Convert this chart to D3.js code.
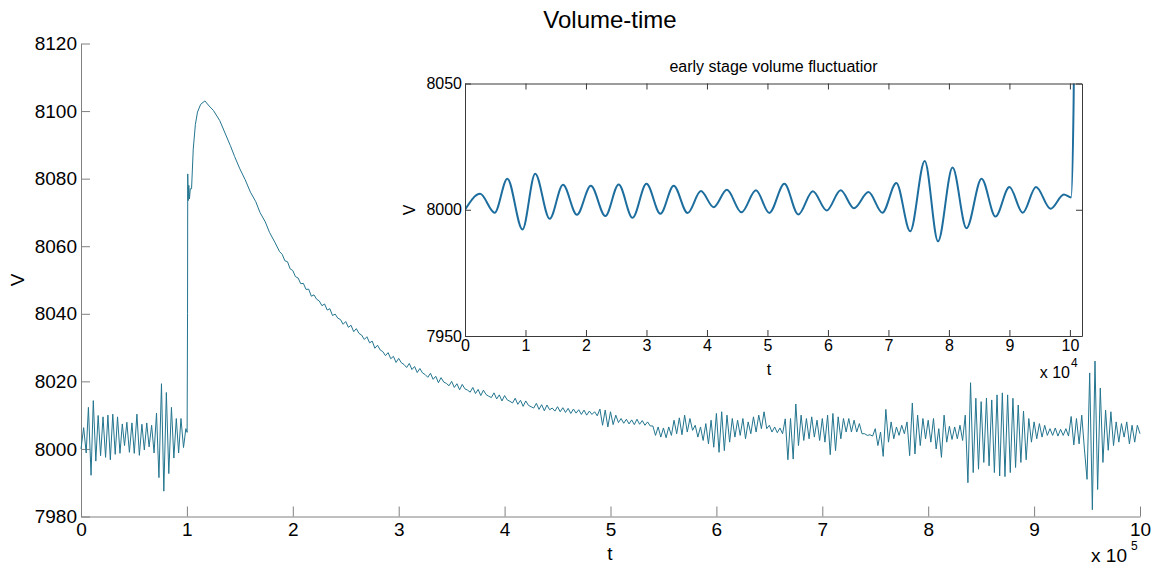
<!DOCTYPE html>
<html>
<head>
<meta charset="utf-8">
<title>Volume-time</title>
<script src="https://d3js.org/d3.v7.min.js"></script>
<style>
  body { margin: 0; background: #fff; }
  text { font-family: "Liberation Sans", Arial, sans-serif; }
</style>
</head>
<body>
<div id="chart"></div>
<script>
// early stage, t in units of 1e4 (drives the inset and the start of the main curve)
var earlyT = [0, 0.25, 0.49, 0.70, 0.95, 1.16, 1.40, 1.62, 1.85, 2.08, 2.32, 2.54, 2.77, 3.00, 3.23,
  3.45, 3.68, 3.90, 4.11, 4.33, 4.57, 4.81, 5.03, 5.28, 5.51, 5.75, 5.98, 6.21, 6.43, 6.67,
  6.90, 7.13, 7.36, 7.60, 7.82, 8.06, 8.29, 8.54, 8.77, 9.00, 9.22, 9.44, 9.68, 9.90, 10.02];
var earlyV = [8000, 8006.3, 7998.8, 8012.3, 7992.2, 8014.3, 7996.4, 8009.9, 7998, 8009.5, 7997.5, 8010, 7996.8, 8010.3, 7998.4,
  8009.5, 7998.7, 8007.4, 8001, 8007.9, 7999, 8007.7, 7998.7, 8010.3, 7998.1, 8007.3, 7999.7, 8007.7, 8000.6, 8007,
  7998.8, 8010.6, 7991.5, 8019.3, 7987.5, 8016.7, 7992.7, 8012.3, 7997.3, 8009, 7998.8, 8009, 8000.4, 8006, 8004.9];

// jump and peak, t in units of 1e5
var jumpT = [1.006, 1.008, 1.012, 1.018, 1.024, 1.032, 1.044, 1.06, 1.08, 1.10, 1.13, 1.17, 1.21, 1.25, 1.31,
  1.36, 1.41, 1.45, 1.50, 1.55, 1.60, 1.65, 1.69, 1.74, 1.78, 1.83, 1.875];
var jumpV = [8040, 8081.4, 8073.5, 8078, 8074, 8077, 8077, 8088.8, 8096, 8099.7, 8102, 8103, 8101.5, 8100.2, 8097.2,
  8093.5, 8089.8, 8086.6, 8082.9, 8079.7, 8076, 8073.2, 8070, 8067.2, 8064.1, 8061.2, 8058.4];

// noisy decay, sampled every 0.025 (x1e5) from t = 1.9
var decayStart = 1.9, decayStep = 0.025;
var decayV = [
  8057.6, 8055.7, 8055.4, 8053.3,  8052.8, 8051.0, 8050.6, 8048.9,  8049.0, 8047.2, 8047.3, 8045.2,
  8045.6, 8044.3, 8043.8, 8042.4,  8042.9, 8041.1, 8041.5, 8039.5,  8039.9, 8038.7, 8038.3, 8036.9,
  8037.7, 8036.0, 8036.6, 8034.7,  8035.6, 8034.2, 8033.7, 8032.4,  8033.2, 8031.4, 8031.9, 8029.8,
  8030.7, 8029.3, 8028.8, 8027.6,  8028.5, 8026.7, 8027.4, 8025.6,  8026.8, 8025.5, 8025.0, 8024.1,
  8025.3, 8023.5, 8024.4, 8022.6,  8023.8, 8022.5, 8022.0, 8021.2,  8022.4, 8020.6, 8021.5, 8019.6,
  8021.1, 8019.8, 8019.4, 8018.7,  8020.0, 8018.2, 8019.3, 8017.5,  8019.1, 8017.8, 8017.4, 8016.8,
  8018.2, 8016.4, 8017.6, 8015.8,  8017.4, 8016.1, 8015.6, 8015.2,  8016.6, 8014.8, 8016.0, 8014.2,
  8015.8, 8014.5, 8014.1, 8013.6,  8015.0, 8013.2, 8014.4, 8012.6,  8014.2, 8012.9, 8012.5, 8012.1,
  8013.5, 8011.7, 8013.1, 8011.3,  8013.0, 8011.6, 8012.1, 8011.2
];

// late oscillations, sampled every 0.025 (x1e5) from t = 4.5
var lateStart = 4.5, lateStep = 0.025;
var lateV = [
  8012.5, 8011, 8012.2, 8010.8, 8012, 8010.5, 8011.8, 8010.6, 8011.6, 8010.2, 8011.5, 8010, 8011.2, 8010.2, 8011, 8009.8,
  8011.8, 8007, 8011.5, 8006.5, 8011, 8007.2, 8010, 8007.8,
  8009, 8007.6, 8008.8, 8007.4, 8008.6, 8007.2, 8008.8, 8007.3, 8008.4, 8007, 8008, 8006.8,
  8006.8, 8004, 8006.5, 8003.5, 8006.2, 8003.3, 8006.5, 8004,
  8008.5, 8004.5, 8009.2, 8004.2, 8010, 8005, 8009, 8005.5,
  8007, 8003.5, 8006.5, 8002.5, 8007.5, 8001.5, 8008.5, 8000.5,
  8010.5, 7999, 8011, 7999.5, 8010, 8002,
  8009, 8003.5, 8008.5, 8004, 8009, 8003, 8008, 8004.5, 8009.5, 8005, 8010, 8006,
  8011, 8006, 8007, 8005, 8006.5, 8004.8, 8006.2, 8004.5,
  8008.9, 7996.8, 8009, 7997, 8013.3, 8001,
  8010, 8002.5, 8009, 8003, 8009.5, 8003.5, 8008.5, 8002.5, 8009, 8002,
  8010, 7998.3, 8010.5, 7999.5, 8009.5, 8003,
  8009, 8005, 8009, 8005, 8008.5, 8005, 8007.5, 8004.5,
  8004.5, 8004, 8004.2, 8003.8,
  8006, 8001, 8005, 7997.8, 8011.7, 8002, 8008, 8003,
  8006.5, 8004, 8007, 8004.5,
  8008, 7998, 8013.6, 7998.5, 8010, 8001,
  8009, 8003, 8008.5, 8002, 8009, 8000,
  8006, 7997.5, 8010, 8002,
  8006.7, 8002.8, 8006.5, 8003, 8007, 8002.5,
  8010, 7990, 8019.6, 7993,
  8015, 7994, 8014, 7996, 8015, 7995, 8014.5, 7993, 8016, 7992, 8016.6, 7991.8, 8016, 7993, 8015, 7994.5, 8013, 7996, 8011.2, 7996.8,
  8009, 8002, 8008, 8003, 8007.5, 8003.5, 8007, 8004,
  8006, 8004, 8006.2, 8003.8, 8005.8, 8004, 8006, 8003.8,
  8009.6, 8001.2, 8009, 8001.5, 8010, 8000,
  7991, 8022.5, 7982, 8026, 7988, 8018,
  7996, 8011.5, 7999.6, 8011,
  8001, 8008, 8002, 8007.5, 8003.5, 8008, 8001.5, 8007, 8002, 8007,
  8004.5
];

var xTicks = [0, 1, 2, 3, 4, 5, 6, 7, 8, 9, 10];
var yTicks = [7980, 8000, 8020, 8040, 8060, 8080, 8100, 8120];
var insetXTicks = [0, 1, 2, 3, 4, 5, 6, 7, 8, 9, 10];
var insetYTicks = [7950, 8000, 8050];

var width = 1160, height = 569;
var font = '"Liberation Sans", Arial, sans-serif';

var svg = d3.select('#chart').append('svg')
  .attr('width', width)
  .attr('height', height);

// full series in units of 1e5
var series = [];
earlyT.forEach(function(t, i) { series.push({t: t / 10, v: earlyV[i]}); });
jumpT.forEach(function(t, i) { series.push({t: t, v: jumpV[i]}); });
decayV.forEach(function(v, i) { series.push({t: decayStart + i * decayStep, v: v}); });
lateV.forEach(function(v, i) { series.push({t: lateStart + i * lateStep, v: v}); });

// ---------- main axes ----------
var x = d3.scaleLinear().domain([0, 10]).range([81, 1140]);
var y = d3.scaleLinear().domain([7980, 8120]).range([516.5, 43.5]);

function styleAxis(g, col, size) {
  g.attr('font-family', font).attr('font-size', size);
  g.selectAll('.domain').attr('stroke', col);
  g.selectAll('.tick line').attr('stroke', col);
  g.selectAll('.tick text').attr('fill', '#000');
}

svg.append('g')
  .attr('transform', 'translate(0,516.5)')
  .call(d3.axisBottom(x).tickValues(xTicks).tickFormat(d3.format('d')).tickSizeInner(-10).tickSizeOuter(0).tickPadding(6))
  .call(styleAxis, '#808080', 19);

svg.append('g')
  .attr('transform', 'translate(81,0)')
  .call(d3.axisLeft(y).tickValues(yTicks).tickFormat(d3.format('d')).tickSizeInner(-9).tickSizeOuter(0).tickPadding(4))
  .call(styleAxis, '#808080', 19);

svg.append('path')
  .datum(series)
  .attr('fill', 'none')
  .attr('stroke', '#23758f')
  .attr('stroke-width', 1)
  .attr('d', d3.line().x(function(d) { return x(d.t); }).y(function(d) { return y(d.v); }));

svg.append('text').attr('x', 610).attr('y', 28).attr('text-anchor', 'middle')
  .attr('font-size', 24).text('Volume-time');
svg.append('text').attr('x', 610).attr('y', 560).attr('text-anchor', 'middle')
  .attr('font-size', 19).text('t');
svg.append('text').attr('transform', 'translate(24,280) rotate(-90)').attr('text-anchor', 'middle')
  .attr('font-size', 19).text('V');
svg.append('text').attr('x', 1127).attr('y', 562).attr('text-anchor', 'end')
  .attr('font-size', 19).text('x 10');
svg.append('text').attr('x', 1131).attr('y', 550)
  .attr('font-size', 12).text('5');

// ---------- inset axes ----------
var ix = d3.scaleLinear().domain([0, 10.2]).range([465, 1082]);
var iy = d3.scaleLinear().domain([7950, 8050]).range([336, 83.5]);

svg.append('rect')
  .attr('x', ix(0)).attr('y', iy(8050))
  .attr('width', ix(10.2) - ix(0)).attr('height', iy(7950) - iy(8050))
  .attr('fill', '#fff');

svg.append('clipPath').attr('id', 'insetClip')
  .append('rect')
  .attr('x', ix(0)).attr('y', iy(8050))
  .attr('width', ix(10.2) - ix(0)).attr('height', iy(7950) - iy(8050));

var insetData = [];
earlyT.forEach(function(t, i) { insetData.push({t: t, v: earlyV[i]}); });
jumpT.slice(0, 4).forEach(function(t, i) { insetData.push({t: t * 10, v: jumpV[i]}); });

svg.append('path')
  .datum(insetData)
  .attr('clip-path', 'url(#insetClip)')
  .attr('fill', 'none')
  .attr('stroke', '#1d6e9e')
  .attr('stroke-width', 2)
  .attr('d', d3.line().curve(d3.curveMonotoneX).x(function(d) { return ix(d.t); }).y(function(d) { return iy(d.v); }));

var insetCol = '#3a3a3a';
svg.append('g')
  .attr('transform', 'translate(0,' + iy(7950) + ')')
  .call(d3.axisBottom(ix).tickValues(insetXTicks).tickFormat(d3.format('d')).tickSizeInner(-6).tickSizeOuter(0).tickPadding(4))
  .call(styleAxis, insetCol, 16);
svg.append('g')
  .attr('transform', 'translate(0,' + iy(8050) + ')')
  .call(d3.axisTop(ix).tickValues(insetXTicks).tickFormat('').tickSizeInner(-6).tickSizeOuter(0))
  .call(styleAxis, insetCol, 16);
svg.append('g')
  .attr('transform', 'translate(' + ix(0) + ',0)')
  .call(d3.axisLeft(iy).tickValues(insetYTicks).tickFormat(d3.format('d')).tickSizeInner(-6).tickSizeOuter(0).tickPadding(3))
  .call(styleAxis, insetCol, 16);
svg.append('g')
  .attr('transform', 'translate(' + ix(10.2) + ',0)')
  .call(d3.axisRight(iy).tickValues(insetYTicks).tickFormat('').tickSizeInner(-6).tickSizeOuter(0))
  .call(styleAxis, insetCol, 16);

svg.append('text').attr('x', (ix(0) + ix(10.2)) / 2).attr('y', 72).attr('text-anchor', 'middle')
  .attr('font-size', 16).text('early stage volume fluctuatior');
svg.append('text').attr('x', 769).attr('y', 375).attr('text-anchor', 'middle')
  .attr('font-size', 16).text('t');
svg.append('text').attr('transform', 'translate(415,210) rotate(-90)').attr('text-anchor', 'middle')
  .attr('font-size', 16).text('V');
svg.append('text').attr('x', 1070).attr('y', 378).attr('text-anchor', 'end')
  .attr('font-size', 16).text('x 10');
svg.append('text').attr('x', 1071).attr('y', 367)
  .attr('font-size', 12).text('4');
</script>
</body>
</html>
